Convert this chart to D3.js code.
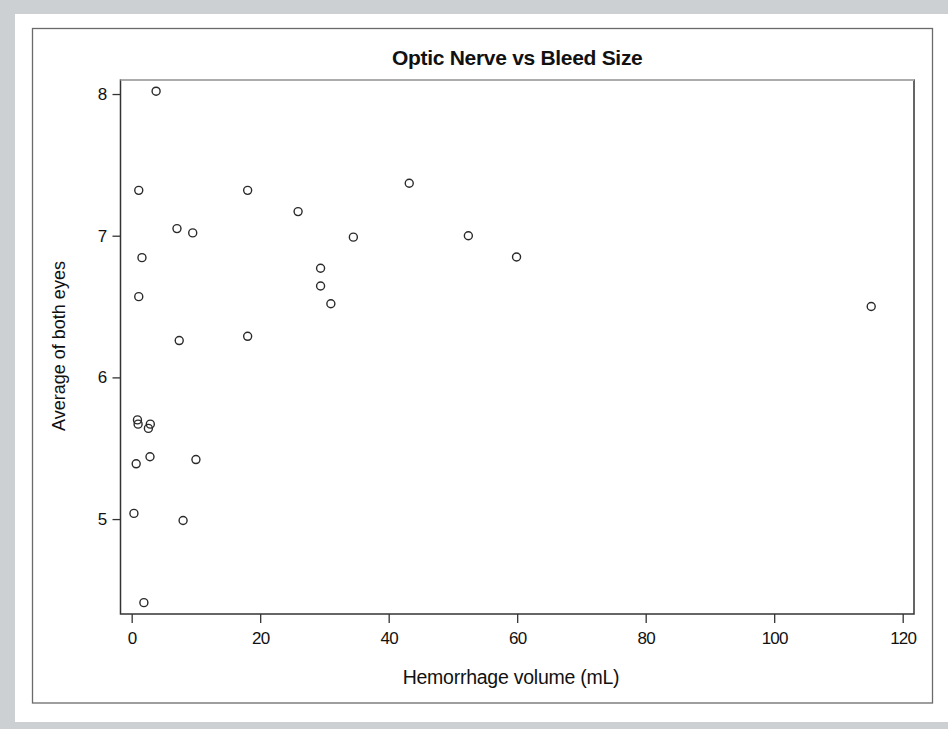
<!DOCTYPE html>
<html>
<head>
<meta charset="utf-8">
<script src="https://cdn.jsdelivr.net/npm/d3@7"></script>
<style>
  html, body { margin: 0; padding: 0; background: #cdd0d3; }
  svg { display: block; }
  text { font-family: "Liberation Sans", Arial, Helvetica, sans-serif; fill: #111; }
</style>
</head>
<body>
<svg id="chart"></svg>
<script>
var width = 948;
var height = 729;

// hemorrhage volume (mL) and optic nerve average of both eyes
var volume = [3.8, 1.1, 7.05, 9.5, 1.6, 1.1, 7.4, 18.05, 18.05, 25.9, 29.4, 29.4, 31.0, 34.5,
  43.2, 52.4, 59.9, 115.1, 0.9, 1.0, 2.9, 2.6, 2.85, 0.7, 10.0, 0.35, 8.0, 1.9];
var nerve = [8.02, 7.32, 7.05, 7.02, 6.845, 6.57, 6.26, 7.32, 6.29, 7.17, 6.77, 6.645, 6.52, 6.99,
  7.37, 7.0, 6.85, 6.5, 5.70, 5.67, 5.67, 5.64, 5.44, 5.39, 5.42, 5.04, 4.99, 4.41];

var xTicks = [0, 20, 40, 60, 80, 100, 120];
var yTicks = [5, 6, 7, 8];

var titleText = "Optic Nerve vs Bleed Size";
var xLabel = "Hemorrhage volume (mL)";
var yLabel = "Average of both eyes";

var plot = { left: 120.5, right: 914, top: 80, bottom: 614 };

var svg = d3.select("#chart")
  .attr("width", width)
  .attr("height", height);

// white panel and outer box
svg.append("rect")
  .attr("x", 15).attr("y", 14)
  .attr("width", width - 15).attr("height", 708)
  .attr("fill", "#fff");

svg.append("rect")
  .attr("x", 32.5).attr("y", 28.5)
  .attr("width", 900).attr("height", 674.5)
  .attr("fill", "none")
  .attr("stroke", "#6a6a6a")
  .attr("stroke-width", 1.3);

var x = d3.scaleLinear().domain([-1.74, 121.76]).range([plot.left, plot.right]);
var y = d3.scaleLinear().domain([4.33, 8.099]).range([plot.bottom, plot.top]);

var xAxis = svg.append("g")
  .attr("transform", "translate(0," + plot.bottom + ")")
  .call(d3.axisBottom(x).tickValues(xTicks).tickFormat(d3.format("d"))
    .tickSize(9).tickPadding(9).tickSizeOuter(0));

var yAxis = svg.append("g")
  .attr("transform", "translate(" + plot.left + ",0)")
  .call(d3.axisLeft(y).tickValues(yTicks).tickFormat(d3.format("d"))
    .tickSize(8).tickPadding(6).tickSizeOuter(0));

[xAxis, yAxis].forEach(function (g) {
  g.select(".domain").remove();
  g.selectAll(".tick line").attr("stroke", "#333").attr("stroke-width", 1.3);
  g.selectAll(".tick text")
    .attr("fill", "#111")
    .style("font-size", "17px")
    .style("letter-spacing", "-0.8px")
    .style("font-family", "'Liberation Sans', Arial, sans-serif");
});

// plot frame
svg.append("rect")
  .attr("x", plot.left).attr("y", plot.top)
  .attr("width", plot.right - plot.left).attr("height", plot.bottom - plot.top)
  .attr("fill", "none")
  .attr("stroke", "#333")
  .attr("stroke-width", 1.5);

svg.append("line")
  .attr("x1", plot.left).attr("x2", plot.right)
  .attr("y1", plot.top).attr("y2", plot.top)
  .attr("stroke", "#c4c4c4")
  .attr("stroke-width", 1.6);

// points
svg.append("g")
  .selectAll("circle")
  .data(volume.map(function (v, i) { return { v: v, n: nerve[i] }; }))
  .join("circle")
  .attr("cx", function (d) { return x(d.v); })
  .attr("cy", function (d) { return y(d.n); })
  .attr("r", 4)
  .attr("fill", "none")
  .attr("stroke", "#2a2a2a")
  .attr("stroke-width", 1.4);

// labels
svg.append("text")
  .attr("x", (plot.left + plot.right) / 2)
  .attr("y", 65)
  .attr("text-anchor", "middle")
  .style("font-size", "21px")
  .style("font-weight", "bold")
  .style("letter-spacing", "-0.3px")
  .text(titleText);

svg.append("text")
  .attr("x", 511)
  .attr("y", 684)
  .attr("text-anchor", "middle")
  .style("font-size", "19.5px")
  .style("letter-spacing", "-0.25px")
  .text(xLabel);

svg.append("text")
  .attr("transform", "translate(65,346) rotate(-90)")
  .attr("text-anchor", "middle")
  .style("font-size", "18px")
  .text(yLabel);
</script>
</body>
</html>
